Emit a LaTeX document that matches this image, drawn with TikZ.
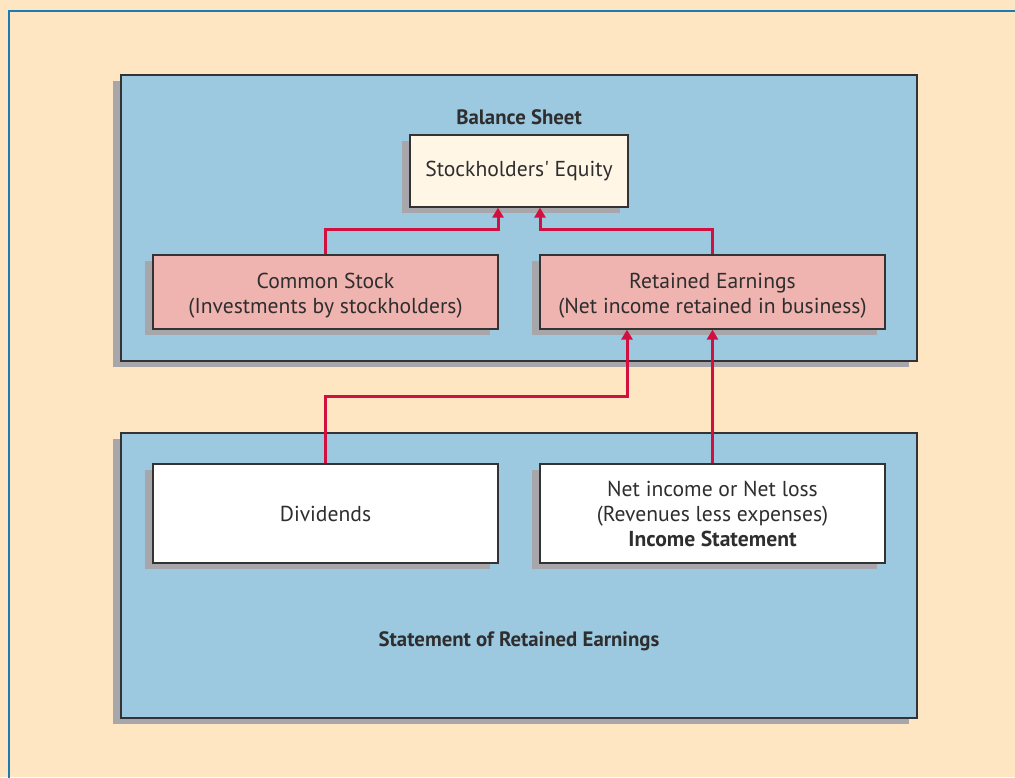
\documentclass[tikz,border=0pt]{standalone}
\usepackage{fontspec}
\setmainfont{PT Sans}
\usetikzlibrary{arrows.meta,shadows}
\definecolor{pagebg}{HTML}{FDE6C1}
\definecolor{framecol}{HTML}{1C7BB0}
\definecolor{panelblue}{HTML}{9CC8E0}
\definecolor{pinkbox}{HTML}{EFB3B0}
\definecolor{creambox}{HTML}{FFF6E6}
\definecolor{shade}{HTML}{A7A7AB}
\definecolor{edge}{HTML}{333333}
\definecolor{linkred}{HTML}{D2103F}
\definecolor{ink}{HTML}{2E2E2E}
\tikzset{
  shadowed/.style={drop shadow={shadow xshift=-8pt,shadow yshift=-6pt,fill=shade,opacity=1}},
  panel/.style={draw=edge,line width=1.4pt,fill=panelblue,shadowed,inner sep=0pt},
  card/.style={draw=edge,line width=1.2pt,shadowed,inner sep=0pt,align=center,
    text=ink,font=\fontsize{21.6}{25}\selectfont,minimum width=345pt},
  title/.style={text=ink,font=\bfseries\fontsize{20.8}{22}\selectfont,inner sep=0pt},
  link/.style={draw=linkred,line width=3pt,-{Triangle[width=11pt,length=10pt]}}
}
% strut that lowers a two-line label slightly inside its box
\newcommand{\lowerstrut}{\rule{0pt}{22pt}}
\begin{document}
\begin{tikzpicture}[x=1pt,y=-1pt]
\useasboundingbox (0,0) rectangle (1015,777);
\fill[pagebg] (0,0) rectangle (1015,777);
\draw[framecol,line width=1.5pt] (9,11) rectangle (1030,790);

% two panels
\node[panel,minimum width=796pt,minimum height=286pt] (bs) at (519,218) {};
\node[panel,minimum width=796pt,minimum height=285pt] (sre) at (519,575.5) {};

\node[title] (bst) at (519,117) {Balance Sheet};
\node[title] (sret) at (519,641) {Statement of Retained Earnings};

% boxes
\node[card,fill=creambox,minimum width=218pt,minimum height=72pt] (se) at (519,171) {Stockholders\textquotesingle{} Equity};
\node[card,fill=pinkbox,minimum height=74pt] (cs) at (325.5,292) {\lowerstrut Common Stock\\(Investments by stockholders)};
\node[card,fill=pinkbox,minimum height=74pt] (re) at (712.5,292) {\lowerstrut Retained Earnings\\(Net income retained in business)};
\node[card,fill=white,minimum height=99pt] (dv) at (325.5,513.5) {Dividends};
\node[card,fill=white,minimum height=99pt] (ni) at (712.5,513.5) {Net income or Net loss\\(Revenues less expenses)\\\textbf{Income Statement}};

% connectors
\draw[link] (cs.north) -- ++(0,-25) -| ([xshift=-21pt]se.south);
\draw[link] (re.north) -- ++(0,-25) -| ([xshift=21pt]se.south);
\draw[link] (dv.north) -- ++(0,-67) -| ([xshift=-85.5pt]re.south);
\draw[link] (ni.north) -- (re.south);
\end{tikzpicture}
\end{document}
